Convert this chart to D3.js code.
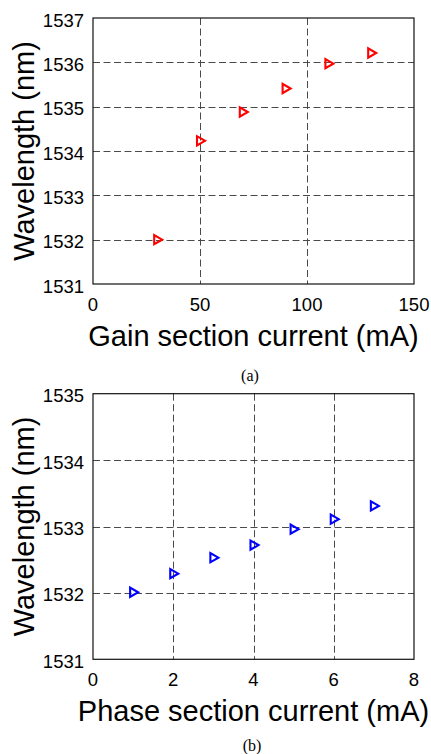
<!DOCTYPE html>
<html>
<head>
<meta charset="utf-8">
<script src="https://cdn.jsdelivr.net/npm/d3@7/dist/d3.min.js"></script>
<style>
  html, body { margin: 0; padding: 0; background: #fff; }
  svg { display: block; }
  .tick-label { font-family: "Liberation Sans", Arial, sans-serif; font-size: 18.5px; fill: #000; }
  .axis-title { font-family: "Liberation Sans", Arial, sans-serif; font-size: 29px; fill: #000; }
  .caption { font-family: "Liberation Serif", "Times New Roman", serif; font-size: 16px; fill: #000; }
</style>
</head>
<body>
<svg id="chart" width="431" height="754"></svg>
<script>
// Panel (a): wavelength versus gain section current
const gainCurrent = [30, 50, 70, 90, 110, 130];
const gainWavelength = [1532.0, 1534.23, 1534.88, 1535.41, 1535.97, 1536.21];
const gainXTicks = [0, 50, 100, 150];
const gainYTicks = [1531, 1532, 1533, 1534, 1535, 1536, 1537];

// Panel (b): wavelength versus phase section current
const phaseCurrent = [1, 2, 3, 4, 5, 6, 7];
const phaseWavelength = [1532.01, 1532.29, 1532.53, 1532.72, 1532.96, 1533.11, 1533.31];
const phaseXTicks = [0, 2, 4, 6, 8];
const phaseYTicks = [1531, 1532, 1533, 1534, 1535];

const svg = d3.select("#chart");

function drawPanel(cfg) {
  const x = d3.scaleLinear().domain(cfg.xDomain).range([cfg.left, cfg.right]);
  const y = d3.scaleLinear().domain(cfg.yDomain).range([cfg.bottom, cfg.top]);
  const g = svg.append("g");

  // dashed grid at interior ticks
  const grid = g.append("g")
    .attr("stroke", "#4a4a4a")
    .attr("stroke-width", 1)
    .attr("stroke-dasharray", "7,3.5")
    .attr("fill", "none");
  grid.selectAll("line.v")
    .data(cfg.xTicks.filter(t => t > cfg.xDomain[0] && t < cfg.xDomain[1]))
    .join("line").attr("class", "v")
    .attr("x1", d => Math.round(x(d)) + 0.5).attr("x2", d => Math.round(x(d)) + 0.5)
    .attr("y1", cfg.top).attr("y2", cfg.bottom);
  grid.selectAll("line.h")
    .data(cfg.yTicks.filter(t => t > cfg.yDomain[0] && t < cfg.yDomain[1]))
    .join("line").attr("class", "h")
    .attr("x1", cfg.left).attr("x2", cfg.right)
    .attr("y1", d => Math.round(y(d)) + 0.5).attr("y2", d => Math.round(y(d)) + 0.5);

  // axes frame
  g.append("rect")
    .attr("x", cfg.left).attr("y", cfg.top)
    .attr("width", cfg.right - cfg.left).attr("height", cfg.bottom - cfg.top)
    .attr("fill", "none").attr("stroke", "#111").attr("stroke-width", 1.2);

  // tick labels
  g.selectAll("text.xt").data(cfg.xTicks).join("text")
    .attr("class", "tick-label")
    .attr("x", d => x(d)).attr("y", cfg.bottom + 27)
    .attr("text-anchor", "middle")
    .text(d => d);
  g.selectAll("text.yt").data(cfg.yTicks).join("text")
    .attr("class", "tick-label")
    .attr("x", cfg.left - 9).attr("y", d => y(d) + 8.5)
    .attr("text-anchor", "end")
    .text(d => d);

  // axis titles
  g.append("text").attr("class", "axis-title")
    .attr("x", (cfg.left + cfg.right) / 2).attr("y", cfg.bottom + 62)
    .attr("text-anchor", "middle")
    .text(cfg.xTitle);
  g.append("text").attr("class", "axis-title")
    .attr("transform", `translate(33.5,${(cfg.top + cfg.bottom) / 2}) rotate(-90)`)
    .attr("text-anchor", "middle")
    .text("Wavelength (nm)");

  // caption
  g.append("text").attr("class", "caption")
    .attr("x", cfg.captionX).attr("y", cfg.captionY)
    .attr("text-anchor", "middle")
    .text(cfg.caption);

  // right-pointing triangle markers
  const tri = "M-3.6,-4.6L-3.6,4.6L4.4,0Z";
  g.selectAll("path.mk")
    .data(cfg.xs.map((v, i) => [v, cfg.ys[i]]))
    .join("path").attr("class", "mk")
    .attr("d", tri)
    .attr("transform", d => `translate(${x(d[0]) + 0.6},${y(d[1])})`)
    .attr("fill", "none")
    .attr("stroke", cfg.color)
    .attr("stroke-width", 2.1)
    .attr("stroke-linejoin", "miter");
}

drawPanel({
  xDomain: [0, 150], yDomain: [1531, 1537],
  xTicks: gainXTicks, yTicks: gainYTicks,
  left: 93, right: 414, top: 18, bottom: 284,
  xs: gainCurrent, ys: gainWavelength, color: "#ff0000",
  xTitle: "Gain section current (mA)",
  caption: "(a)", captionX: 250, captionY: 380.5
});

drawPanel({
  xDomain: [0, 8], yDomain: [1531, 1535],
  xTicks: phaseXTicks, yTicks: phaseYTicks,
  left: 93, right: 414, top: 393.7, bottom: 659.3,
  xs: phaseCurrent, ys: phaseWavelength, color: "#0000ff",
  xTitle: "Phase section current (mA)",
  caption: "(b)", captionX: 252, captionY: 750.5
});
</script>
</body>
</html>
